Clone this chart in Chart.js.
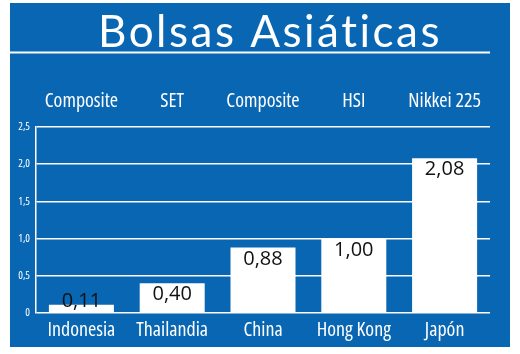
<!DOCTYPE html>
<html>
<head>
<meta charset="utf-8">
<script src="https://cdn.jsdelivr.net/npm/chart.js@4.4.1/dist/chart.umd.min.js"></script>
<style>
  html, body { margin: 0; padding: 0; background: #fff; }
  #panel { position: absolute; left: 10px; top: 3px; width: 500px; height: 344px; background: #0866b2; }
  canvas { display: block; }
</style>
</head>
<body>
<div id="panel"><canvas id="chart" width="500" height="344"></canvas></div>
<script>
// ===== DATA =====
const title = 'Bolsas Asiáticas';
const countries = ['Indonesia', 'Thailandia', 'China', 'Hong Kong', 'Japón'];
const indexNames = ['Composite', 'SET', 'Composite', 'HSI', 'Nikkei 225'];
const changes = [0.11, 0.40, 0.88, 1.00, 2.08];
const yTicks = [0, 0.5, 1.0, 1.5, 2.0, 2.5];

// condensed face (Open Sans has a width axis)
const FAMILY = "'Open Sans', sans-serif";
const COND = 'normal condensed';
const fmt = v => v === 0 ? '0' : v.toFixed(1).replace('.', ',');

// title + rule under it
const frame = {
  id: 'frame',
  beforeDraw(chart) {
    const ctx = chart.ctx;
    ctx.save();
    ctx.fillStyle = '#fff';
    ctx.font = '44px Lato, sans-serif';
    ctx.letterSpacing = '2.5px';
    ctx.textAlign = 'center';
    ctx.textBaseline = 'alphabetic';
    ctx.fillText(title, 260, 44);
    ctx.letterSpacing = '0px';
    ctx.strokeStyle = '#fff';
    ctx.lineWidth = 2;
    ctx.beginPath();
    ctx.moveTo(0, 49.5);
    ctx.lineTo(chart.chartArea.right, 49.5);
    ctx.stroke();
    ctx.restore();
  }
};

// value labels at the top of each bar
const valueLabels = {
  id: 'valueLabels',
  afterDatasetsDraw(chart) {
    const ctx = chart.ctx;
    const meta = chart.getDatasetMeta(0);
    ctx.save();
    ctx.fillStyle = '#111';
    ctx.font = "500 20px 'Open Sans', sans-serif";
    ctx.textAlign = 'center';
    ctx.textBaseline = 'alphabetic';
    meta.data.forEach((bar, i) => {
      const top = Math.min(bar.y + 3, chart.chartArea.bottom - 20);
      ctx.fillText(changes[i].toFixed(2).replace('.', ','), bar.x, top + 14);
    });
    ctx.restore();
  }
};

new Chart(document.getElementById('chart'), {
  type: 'bar',
  data: {
    labels: countries,
    datasets: [{
      data: changes,
      backgroundColor: '#ffffff',
      borderWidth: 0,
      barPercentage: 0.716,
      categoryPercentage: 1
    }]
  },
  options: {
    responsive: false,
    animation: false,
    layout: { padding: { top: 70, right: 20, bottom: 0, left: 0 } },
    plugins: { legend: { display: false }, title: { display: false }, tooltip: { enabled: false } },
    scales: {
      x: {
        position: 'bottom',
        grid: { display: false },
        border: { display: false },
        ticks: { color: '#fff', font: { family: FAMILY, size: 20, weight: COND }, padding: -3, maxRotation: 0 },
        afterFit: s => { s.height = 34; }
      },
      xTop: {
        type: 'category',
        position: 'top',
        labels: indexNames,
        offset: true,
        grid: { display: false },
        border: { display: false },
        ticks: { color: '#fff', font: { family: FAMILY, size: 20, weight: COND }, padding: 6, maxRotation: 0 },
        afterFit: s => { s.height = 54; }
      },
      y: {
        min: 0,
        max: 2.5,
        afterBuildTicks: s => { s.ticks = yTicks.map(v => ({ value: v })); },
        grid: { color: '#fff', lineWidth: 1.5, drawTicks: false },
        border: { display: true, color: '#fff', width: 1.5 },
        ticks: { color: '#fff', font: { family: FAMILY, size: 11, weight: COND }, padding: 6, callback: v => fmt(v) },
        afterFit: s => { s.width = 26; }
      }
    }
  },
  plugins: [frame, valueLabels]
});
</script>
</body>
</html>
